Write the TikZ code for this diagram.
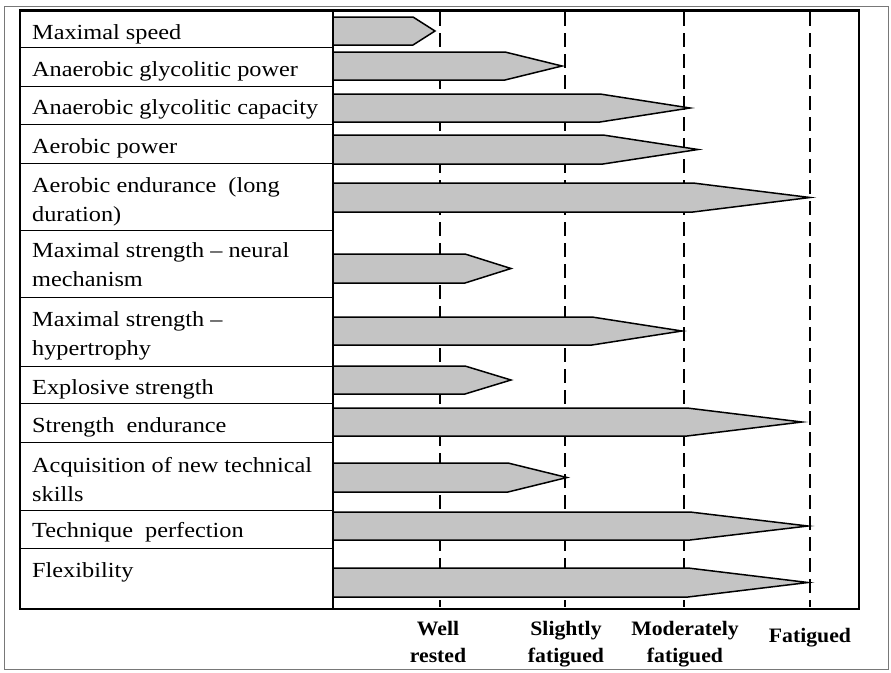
\documentclass[tikz,border=0pt]{standalone}
\usepackage{fontspec}
\setmainfont{Liberation Serif}[FakeStretch=1.13]
\newfontfamily\axisfont{Liberation Serif}[FakeStretch=1.06]
\definecolor{barfill}{RGB}{196,196,196}
\definecolor{framegray}{RGB}{120,120,120}
\begin{document}
\begin{tikzpicture}[x=1pt,y=-1pt,
  lbl/.style={anchor=base west,inner sep=0pt,align=left,font=\fontsize{21.5}{28.5}\selectfont},
  axislbl/.style={anchor=base,inner sep=0pt,align=center,font=\axisfont\bfseries\fontsize{20.5}{27}\selectfont},
  dashline/.style={line width=2pt,dash pattern=on 14pt off 7pt},
  barshape/.style={draw=black,fill=barfill,line width=1.5pt,line join=miter},
  rowline/.style={line width=1pt},
  mainbox/.style={line width=2.6pt}]
\useasboundingbox (0,0) rectangle (891,672);
\draw[framegray,line width=1pt] (4,6) rectangle (888,669.5);
% dashed reference lines
\foreach \x/\n in {440/a,565/b,684/c,810/d}
  {\coordinate (top\n) at (\x,12); \coordinate (bot\n) at (\x,607);
   \draw[dashline] (top\n) -- (bot\n);}
% bars
\foreach \t/\b/\s/\p in {17/45/413/435, 52/80/505/562, 94/122/600/690,
  135/164/603/698, 183/212/693/810, 254/283/465/511, 317/345/592/682,
  366/394/465/511, 408/436/687/802, 463/492/508/567, 512/540/690/808,
  568/597/688/808}
  \draw[barshape] (333,\t) -- (\s,\t) -- (\p,{(\t+\b)/2}) -- (\s,\b) -- (333,\b) -- cycle;
% row lines
\foreach \y in {47,86,124,163,230,297,366,403,442,510,548}
  \draw[rowline] (20,\y) -- (333,\y);
\draw[mainbox] (20,10.5) rectangle (859,609);
\draw[line width=2.2pt] (333,10.5) -- (333,609);
% labels (multi-line nodes: base = last line)
\node[lbl] (r1) at (32,39) {Maximal speed};
\node[lbl] (r2) at (32,76) {Anaerobic glycolitic power};
\node[lbl] (r3) at (32,114) {Anaerobic glycolitic capacity};
\node[lbl] (r4) at (32,153) {Aerobic power};
\node[lbl] (r5) at (32,221) {Aerobic endurance\ \ (long\\duration)};
\node[lbl] (r6) at (32,286) {Maximal strength -- neural\\mechanism};
\node[lbl] (r7) at (32,355) {Maximal strength --\\hypertrophy};
\node[lbl] (r8) at (32,394) {Explosive strength};
\node[lbl] (r9) at (32,432) {Strength\ \ endurance};
\node[lbl] (r10) at (32,501) {Acquisition of new technical\\skills};
\node[lbl] (r11) at (32,537) {Technique\ \ perfection};
\node[lbl] (r12) at (32,577) {Flexibility};
% axis labels
\node[axislbl] (la) at (438,662) {Well\\rested};
\node[axislbl] (lb) at (566,662) {Slightly\\fatigued};
\node[axislbl] (lc) at (685,662) {Moderately\\fatigued};
\node[axislbl] (ld) at (810,642) {Fatigued};
\end{tikzpicture}
\end{document}
